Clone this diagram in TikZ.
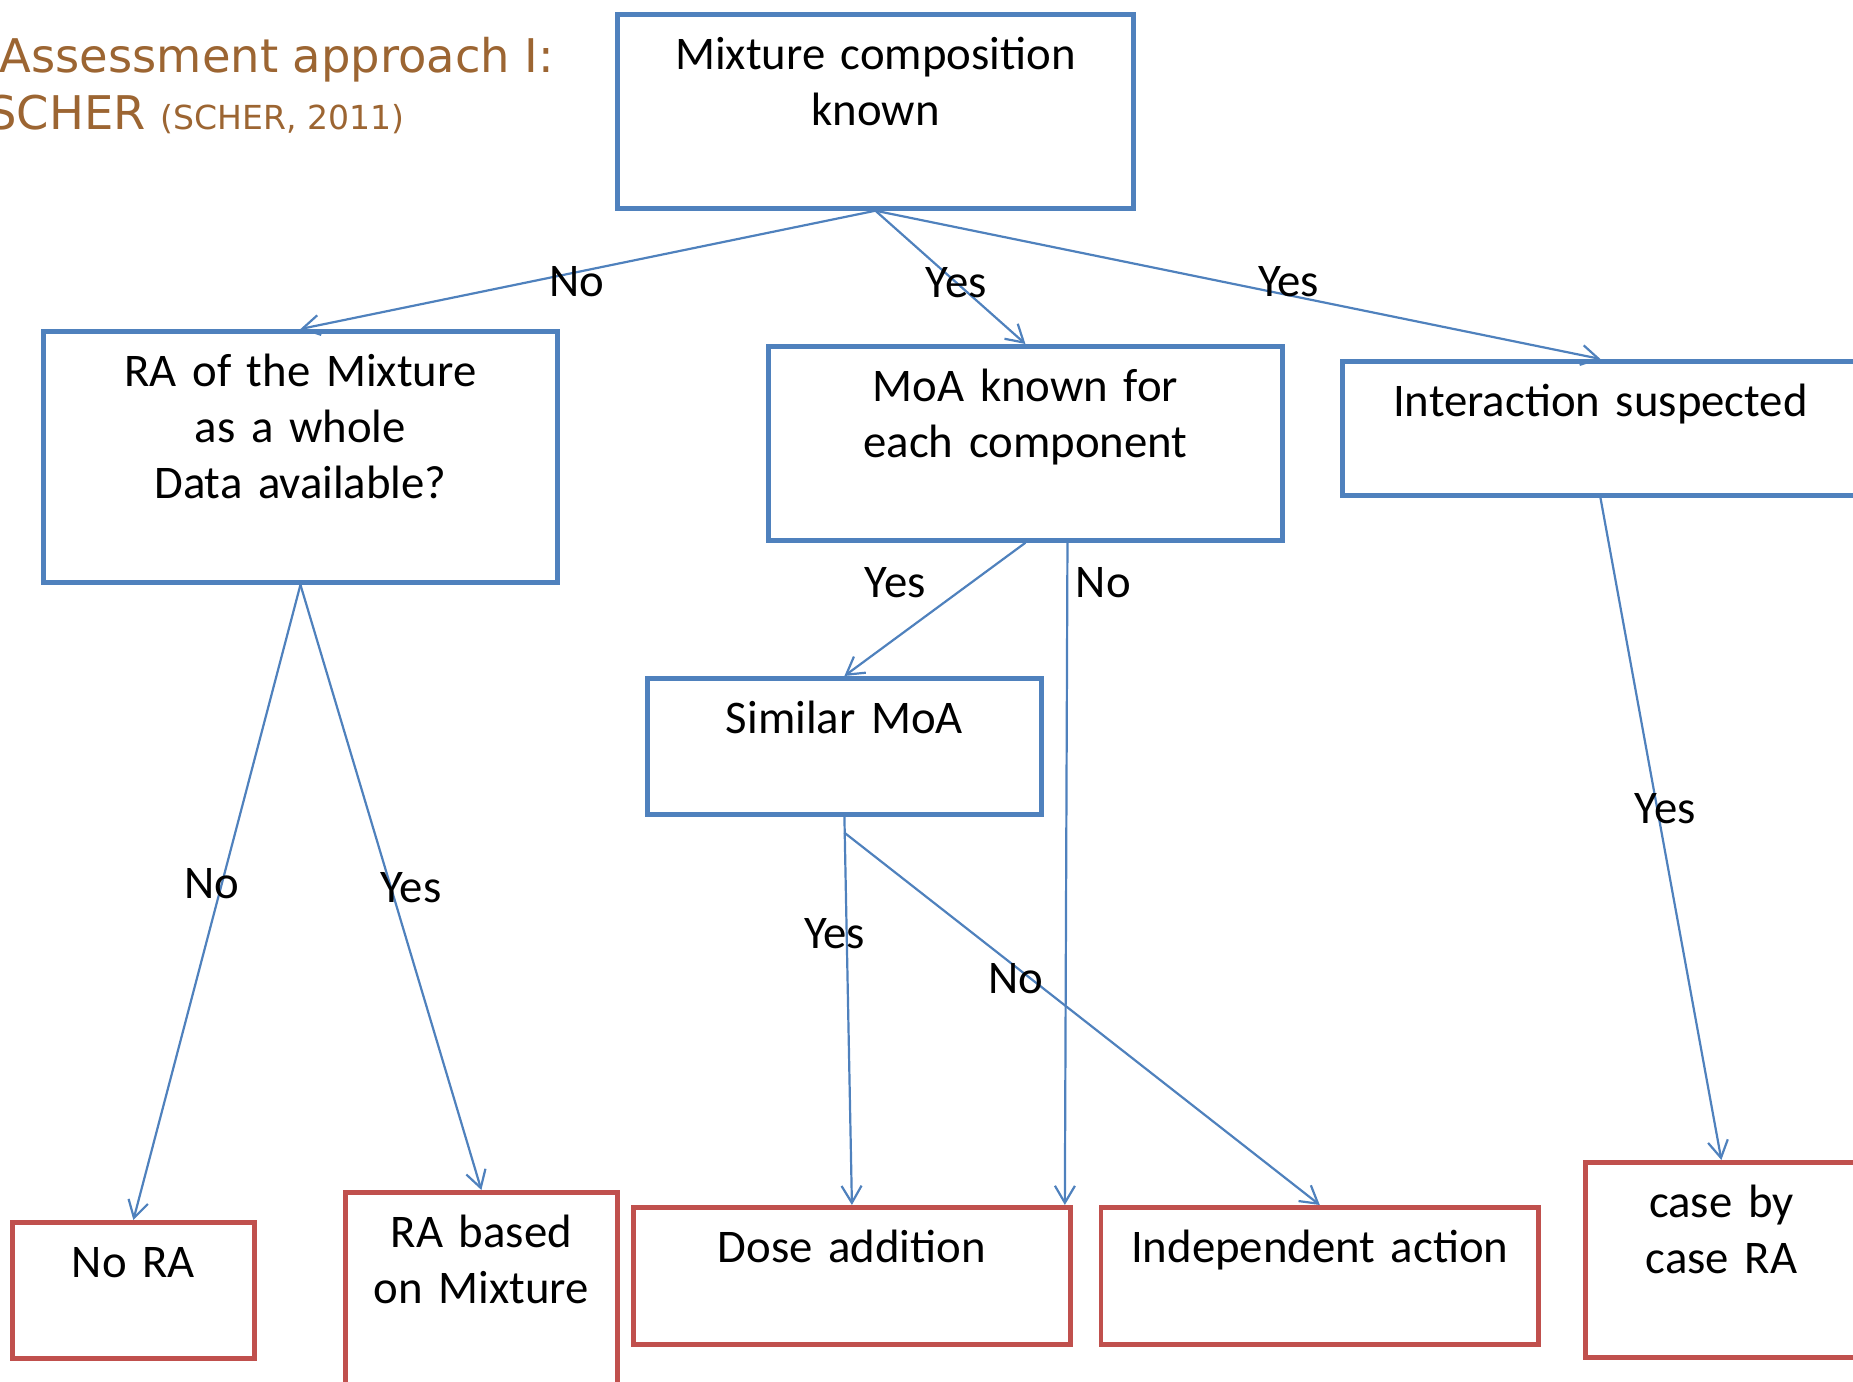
\documentclass[tikz,border=0pt]{standalone}
\usepackage{fontspec}
\setmainfont{Carlito}
\newfontfamily\titlefont{DejaVu Sans}
\usetikzlibrary{positioning,arrows.meta}
\definecolor{linecolor}{RGB}{79,129,189}
\definecolor{endcolor}{RGB}{192,80,77}
\definecolor{titlecolor}{RGB}{156,101,50}

\begin{document}
\begin{tikzpicture}[%
    x=0.01cm, y=-0.01cm,        % one unit per slide pixel, y going down
    >={Straight Barb[length=1.7mm,width=2mm]}, % open arrow heads
    ]
\tikzset{
  base/.style={draw, rectangle, line width=0.046cm, inner sep=0pt, anchor=north west,
    align=center, text height=0.555cm, font=\fontsize{13.3}{15.9}\selectfont},
  test/.style={base, draw=linecolor},
  term/.style={base, draw=endcolor},
  conn/.style={->, draw=linecolor, line width=0.022cm},
  lbl/.style={inner sep=0pt, font=\fontsize{13.3}{15.9}\selectfont},
  head/.style={anchor=base east, text=titlecolor, inner sep=0pt,
    font=\titlefont\fontsize{13.2}{16}\selectfont},
}
\useasboundingbox (0,0) rectangle (1853,1382);
\clip (0,0) rectangle (1853,1382);

\node [head] (t0) at (555,73) {Assessment approach I:};
\node [head] (t1) at (405,130) {SCHER {\fontsize{9.4}{11}\selectfont (SCHER, 2011)}};

\node [test, text width=5.16cm, text depth=1.385cm] (p0) at (615,12) {Mixture composition\\known};
\node [test, text width=5.14cm, text depth=1.955cm] (p1) at (41,329) {RA of the Mixture\\as a whole\\Data available?};
\node [test, text width=5.14cm, text depth=1.385cm] (p2) at (766,344) {MoA known for\\each component};
\node [test, text width=5.16cm, text depth=0.785cm] (p3) at (1340,359) {Interaction suspected};
\node [test, text width=3.94cm, text depth=0.805cm] (p4) at (645,676) {Similar MoA};

\node [term, text width=2.42cm, text depth=0.805cm] (p5) at (10,1220) {No RA};
\node [term, text width=2.72cm, text depth=1.7cm] (p6) at (343,1190) {RA based\\on Mixture};
\node [term, text width=4.37cm, text depth=0.815cm] (p7) at (631,1205) {Dose addition};
\node [term, text width=4.37cm, text depth=0.815cm, right=0.26cm of p7] (p8) {Independent action};
\node [term, text width=2.72cm, text depth=1.395cm] (p9) at (1583,1160) {case by\\case RA};

%connect
\draw [conn] (p0.south) -- node [lbl, pos=.52, yshift=-0.09cm] (l0) {No} (p1.north);
\draw [conn] (p0.south) -- node [lbl, pos=.54] (l1) {Yes} (p2.north);
\draw [conn] (p0.south) -- node [lbl, pos=.57, yshift=0.14cm] (l2) {Yes} (p3.north);
\draw [conn] (p1.south) -- node [lbl, pos=.47, xshift=-0.1cm] (l3) {No} (p5.north);
\draw [conn] (p1.south) -- node [lbl, pos=.5, xshift=0.2cm] (l4) {Yes} (p6.north);
\draw [conn] (p2.south) -- node [lbl, pos=.3, xshift=-0.76cm] (l5) {Yes} (p4.north);
\draw [conn] ([xshift=0.42cm]p2.south) -- node [lbl, pos=.06, xshift=0.36cm] (l6) {No} ([xshift=-0.08cm]p7.north east);
\draw [conn] (p4.south) -- node [lbl, pos=.3, xshift=-0.12cm] (l7) {Yes} (p7.north);
\draw [conn] ([yshift=-0.16cm]p4.south) -- node [lbl, pos=.36, yshift=-0.12cm] (l8) {No} (p8.north);
\draw [conn] (p3.south) -- node [lbl, pos=.47, xshift=0.08cm] (l9) {Yes} (p9.north);

\end{tikzpicture}
\end{document}
